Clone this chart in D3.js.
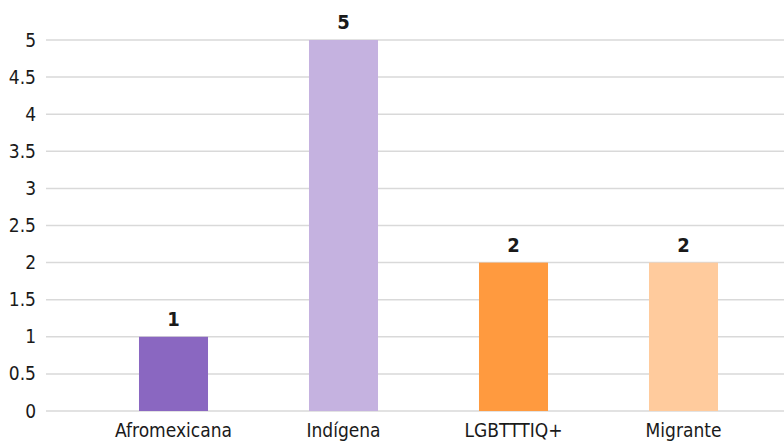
<!DOCTYPE html>
<html>
<head>
<meta charset="utf-8">
<script src="https://cdn.jsdelivr.net/npm/d3@7"></script>
<style>
  html, body { margin: 0; padding: 0; background: #fff; }
  svg { display: block; }
  text { font-family: "DejaVu Sans Condensed", "DejaVu Sans", sans-serif; fill: #1a1a1a; }
</style>
</head>
<body>
<svg id="chart" width="784" height="443"></svg>
<script>
// Categories and counts
const categories = ["Afromexicana", "Indígena", "LGBTTTIQ+", "Migrante"];
const values = [1, 5, 2, 2];
const colors = ["#8A67C1", "#C5B2E0", "#FF9A3F", "#FFCB9D"];
const yTicks = [0, 0.5, 1, 1.5, 2, 2.5, 3, 3.5, 4, 4.5, 5];

const svg = d3.select("#chart");
const gridLeft = 46, gridRight = 784;

const x = d3.scaleBand()
  .domain(categories)
  .range([88.5, 768.5])
  .paddingInner(0.594)
  .paddingOuter(0.297);

const y = d3.scaleLinear().domain([0, 5]).range([411, 40]);

// Horizontal gridlines
svg.append("g")
  .selectAll("line")
  .data(yTicks)
  .join("line")
  .attr("x1", gridLeft)
  .attr("x2", gridRight)
  .attr("y1", d => y(d))
  .attr("y2", d => y(d))
  .attr("stroke", "#D9D9D9")
  .attr("stroke-width", 1.5);

// Y axis labels
const yAxis = d3.axisLeft(y)
  .tickValues(yTicks)
  .tickSize(0)
  .tickPadding(0)
  .tickFormat(d => String(d));

svg.append("g")
  .attr("transform", "translate(36,0)")
  .call(yAxis)
  .call(g => g.select(".domain").remove())
  .call(g => g.selectAll("text")
    .attr("font-size", 19)
    .attr("font-family", "'DejaVu Sans Condensed', 'DejaVu Sans', sans-serif")
    .attr("fill", "#1a1a1a"));

// Bars
svg.append("g")
  .selectAll("rect")
  .data(categories)
  .join("rect")
  .attr("x", d => x(d))
  .attr("width", x.bandwidth())
  .attr("y", (d, i) => y(values[i]))
  .attr("height", (d, i) => y(0) - y(values[i]))
  .attr("fill", (d, i) => colors[i]);

// Value labels
svg.append("g")
  .selectAll("text")
  .data(categories)
  .join("text")
  .attr("x", d => x(d) + x.bandwidth() / 2)
  .attr("y", (d, i) => y(values[i]) - 11)
  .attr("text-anchor", "middle")
  .attr("font-size", 20)
  .attr("font-weight", "bold")
  .text((d, i) => values[i]);

// Category labels
const xAxis = d3.axisBottom(x).tickSize(0).tickPadding(0);
svg.append("g")
  .attr("transform", "translate(0,415)")
  .call(xAxis)
  .call(g => g.select(".domain").remove())
  .call(g => g.selectAll("text")
    .attr("dy", "0")
    .attr("y", 22)
    .attr("font-size", 19)
    .attr("font-family", "'DejaVu Sans Condensed', 'DejaVu Sans', sans-serif")
    .attr("fill", "#1a1a1a"));
</script>
</body>
</html>
